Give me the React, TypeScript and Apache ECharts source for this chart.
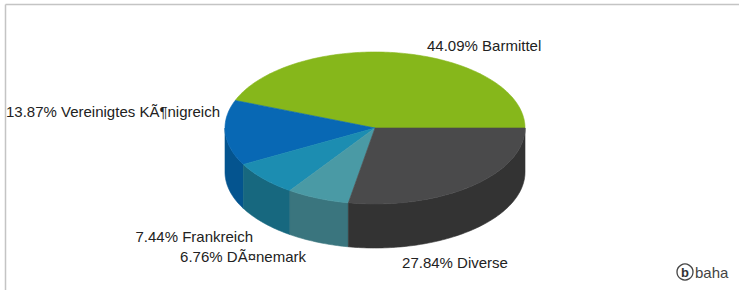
import React, { useEffect, useRef } from "react";
import * as echarts from "echarts";

const categories = ["Barmittel", "Vereinigtes KÃ¶nigreich", "Frankreich", "DÃ¤nemark", "Diverse"];
const shares = [44.09, 13.87, 7.44, 6.76, 27.84];
const topColors = ["#86b71b", "#0868b4", "#1c8db1", "#4a9aa5", "#4a4a4b"];
const sideColors = ["#6a9214", "#04548f", "#17687f", "#3a757e", "#333333"];

export default function App() {
  const ref = useRef<HTMLDivElement>(null);
  useEffect(() => {
    const chart = echarts.init(ref.current!, null, { renderer: "svg" });
    const total = shares.reduce((a, b) => a + b, 0);
    const cx = 375, cy = 128, rx = 150, ry = 76, depth = 44;
    const pt = (deg: number, dy = 0) => {
      const r = (deg * Math.PI) / 180;
      return [cx + rx * Math.cos(r), cy + ry * Math.sin(r) + dy];
    };
    const renderItem = (params: any, api: any) => {
      const i = params.dataIndex;
      const before = shares.slice(0, i).reduce((a, b) => a + b, 0);
      const value = api.value(0);
      const a0 = 360 - (before / total) * 360;
      const a1 = a0 - (value / total) * 360;
      const topPts: number[][] = [[cx, cy]];
      for (let d = a0; d > a1; d -= 1) topPts.push(pt(d));
      topPts.push(pt(a1));
      const children: any[] = [
        {
          type: "polygon",
          shape: { points: topPts },
          style: { fill: topColors[i], stroke: topColors[i], lineWidth: 0.6 },
          z2: 10,
        },
      ];
      const lo = Math.max(a1, 0);
      const hi = Math.min(a0, 180);
      if (hi > lo) {
        const wall: number[][] = [];
        for (let d = lo; d < hi; d += 1) wall.push(pt(d));
        wall.push(pt(hi));
        for (let d = hi; d > lo; d -= 1) wall.push(pt(d, depth));
        wall.push(pt(lo, depth));
        children.push({
          type: "polygon",
          shape: { points: wall },
          style: { fill: sideColors[i], stroke: sideColors[i], lineWidth: 0.6 },
          z2: 5,
        });
      }
      return { type: "group", children };
    };
    const label = (i: number) => `${shares[i].toFixed(2)}% ${categories[i]}`;
    const font = { fontFamily: "Liberation Sans, Arial, sans-serif", fontSize: 15, fill: "#222" };
    chart.setOption({
      animation: false,
      series: [
        {
          type: "custom",
          coordinateSystem: "none",
          silent: true,
          data: shares.map((v) => [v]),
          renderItem,
        },
      ],
      graphic: [
        { type: "line", shape: { x1: 5.5, y1: 4.5, x2: 739, y2: 4.5 }, style: { stroke: "#c4c4c4", lineWidth: 1.5 } },
        { type: "line", shape: { x1: 5.5, y1: 4.5, x2: 5.5, y2: 290 }, style: { stroke: "#c4c4c4", lineWidth: 1.5 } },
        { type: "text", x: 427, y: 45, style: { ...font, text: label(0), textAlign: "left", textVerticalAlign: "middle" } },
        { type: "text", x: 220, y: 111, style: { ...font, text: label(1), textAlign: "right", textVerticalAlign: "middle" } },
        { type: "text", x: 253, y: 236.5, style: { ...font, text: label(2), textAlign: "right", textVerticalAlign: "middle" } },
        { type: "text", x: 306, y: 256.5, style: { ...font, text: label(3), textAlign: "right", textVerticalAlign: "middle" } },
        { type: "text", x: 455, y: 262.5, style: { ...font, text: label(4), textAlign: "center", textVerticalAlign: "middle" } },
        { type: "circle", shape: { cx: 685, cy: 272, r: 8 }, style: { fill: "#fff", stroke: "#444", lineWidth: 1.3 } },
        { type: "text", x: 685, y: 272, style: { fontFamily: "Liberation Sans, Arial, sans-serif", fontSize: 13, fontWeight: "bold", fill: "#333", text: "b", textAlign: "center", textVerticalAlign: "middle" } },
        { type: "text", x: 695, y: 272, style: { fontFamily: "Liberation Sans, Arial, sans-serif", fontSize: 15, fill: "#444", text: "baha", textAlign: "left", textVerticalAlign: "middle" } },
      ],
    });
    return () => chart.dispose();
  }, []);
  return <div ref={ref} style={{ position: "fixed", left: 0, top: 0, width: 739, height: 290, background: "#fff" }} />;
}
